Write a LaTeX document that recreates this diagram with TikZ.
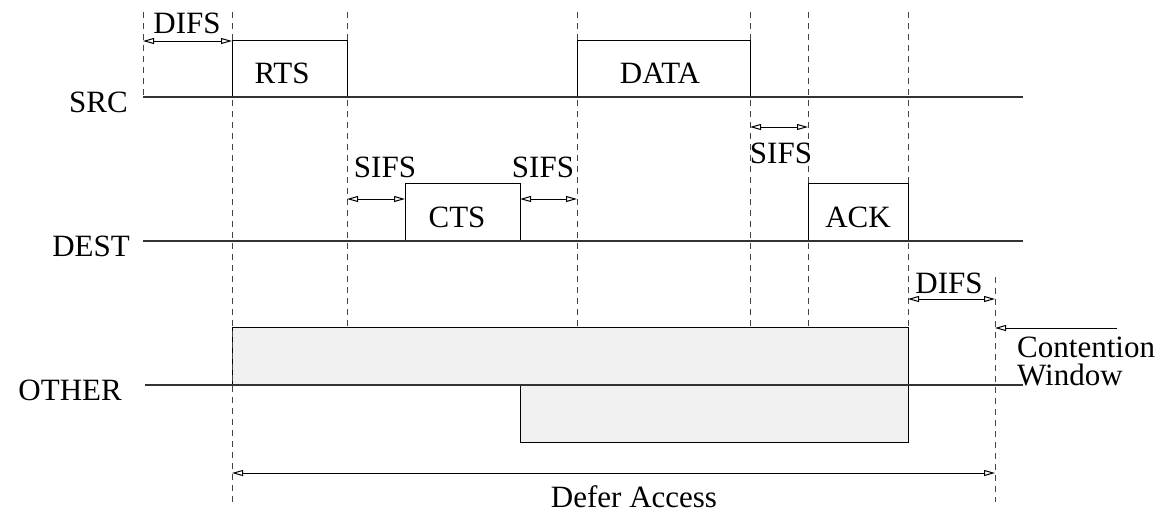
\documentclass[tikz,border=0pt]{standalone}
\usepackage{fontspec}
\setmainfont{Liberation Serif}
\usetikzlibrary{arrows.meta}
\definecolor{shade}{HTML}{F0F0F0}
\definecolor{lanec}{HTML}{333333}
\definecolor{guidec}{HTML}{444444}
\tikzset{
  lbl/.style={font=\fontsize{31}{26}\selectfont, inner sep=0pt},
  lane/.style={draw=lanec, line width=2pt},
  frame/.style={draw=black, line width=1.4pt, inner sep=0pt},
  busy/.style={frame, fill=shade},
  guide/.style={draw=guidec, line width=1pt, dash pattern=on 6pt off 5pt},
  tip/.tip={Triangle[open, length=11pt, width=6pt, line width=1pt]},
  span/.style={line width=1pt, tip-tip},
  point/.style={line width=1pt, -tip},
}
\begin{document}
\begin{tikzpicture}[x=1pt, y=-1pt]
\useasboundingbox (0,0) rectangle (1162,512);

% deferral periods seen by other stations
\node[busy, minimum width=676pt, minimum height=57pt, anchor=south west] (nav1) at (232,385) {};
\node[busy, minimum width=388pt, minimum height=57pt, anchor=north west] (nav2) at (520,385) {};

% dashed time marks
\draw[guide] (143,12) -- (143,97);
\draw[guide] (232,12) -- (232,502);
\draw[guide] (347,12) -- (347,328);
\draw[guide] (577,12) -- (577,328);
\draw[guide] (750,12) -- (750,328);
\draw[guide] (808,12) -- (808,328);
\draw[guide] (908,12) -- (908,328);
\draw[guide] (995,277) -- (995,502);

% frames
\node[frame, minimum width=115pt, minimum height=56pt, anchor=south west] (rts) at (232,97) {};
\node[frame, minimum width=173pt, minimum height=56pt, anchor=south west] (data) at (577,97) {};
\node[frame, minimum width=115pt, minimum height=57pt, anchor=south west] (cts) at (405,241) {};
\node[frame, minimum width=100pt, minimum height=57pt, anchor=south west] (ack) at (808,241) {};

\node[lbl, anchor=base] (rtsl) at (282,83) {RTS};
\node[lbl, anchor=base] (datal) at (660,83) {DATA};
\node[lbl, anchor=base] (ctsl) at (457,227) {CTS};
\node[lbl, anchor=base] (ackl) at (858,227) {ACK};

% station time lines
\node[lbl, anchor=base east] (src) at (128,112) {SRC};
\node[lbl, anchor=base east] (dest) at (130,256) {DEST};
\node[lbl, anchor=base east] (other) at (122,400) {OTHER};
\coordinate (srcA) at (143,97);   \coordinate (srcB) at (1023,97);
\coordinate (destA) at (143,241); \coordinate (destB) at (1023,241);
\coordinate (othA) at (145,385);  \coordinate (othB) at (1023,385);
\draw[lane] (srcA) -- (srcB);
\draw[lane] (destA) -- (destB);
\draw[lane] (othA) -- (othB);

% interframe spaces
\coordinate (d1a) at (143,41);  \coordinate (d1b) at (232,41);
\coordinate (s1a) at (347,199); \coordinate (s1b) at (405,199);
\coordinate (s2a) at (520,199); \coordinate (s2b) at (577,199);
\coordinate (s3a) at (750,127); \coordinate (s3b) at (808,127);
\coordinate (d2a) at (908,299); \coordinate (d2b) at (995,299);
\draw[span] (d1a) -- (d1b);
\draw[span] (s1a) -- (s1b);
\draw[span] (s2a) -- (s2b);
\draw[span] (s3a) -- (s3b);
\draw[span] (d2a) -- (d2b);
\node[lbl, anchor=base] (difs1) at (187,33) {DIFS};
\node[lbl, anchor=base] (sifs1) at (385,177) {SIFS};
\node[lbl, anchor=base] (sifs2) at (543,177) {SIFS};
\node[lbl, anchor=base] (sifs3) at (781,163) {SIFS};
\node[lbl, anchor=base] (difs2) at (949,293) {DIFS};

% contention window
\coordinate (cwA) at (1117,328); \coordinate (cwB) at (995,328);
\draw[point] (cwA) -- (cwB);
\node[lbl, anchor=base west] (cw1) at (1017,357) {Contention};
\node[lbl, anchor=base west] (cw2) at (1017,385) {Window};

% deferred access
\coordinate (dfA) at (232,473); \coordinate (dfB) at (995,473);
\draw[span] (dfA) -- (dfB);
\node[lbl, anchor=base] (defer) at (634,507) {Defer Access};
\end{tikzpicture}
\end{document}
